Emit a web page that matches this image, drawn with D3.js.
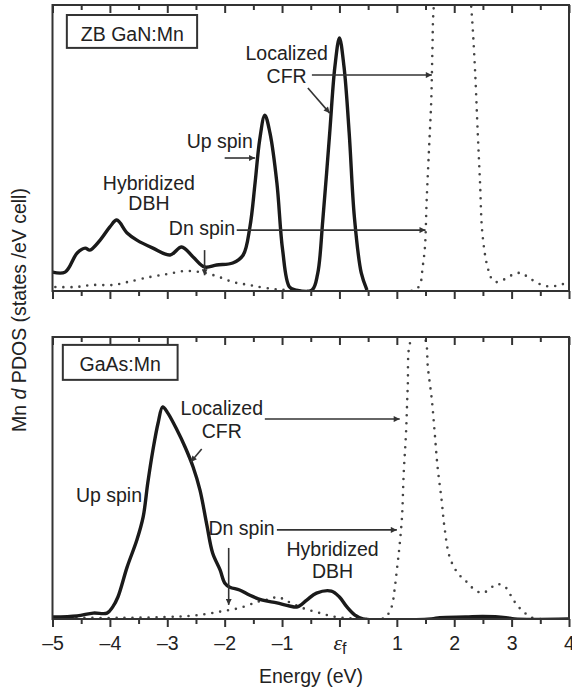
<!DOCTYPE html>
<html><head><meta charset="utf-8">
<script src="https://cdn.jsdelivr.net/npm/d3@7"></script>
<style>
body{margin:0;background:#fff;}
text{font-family:"Liberation Sans",Arial,sans-serif;fill:#222;}
</style></head>
<body><svg id="c" width="572" height="688"></svg>
<script>
// ---- data ----
const majorTicks = [-5,-4,-3,-2,-1,0,1,2,3,4];
const minorTicks = [-4.5,-3.5,-2.5,-1.5,-0.5,0.5,1.5,2.5,3.5];
const tickLabels = ["–5","–4","–3","–2","–1","εf","1","2","3","4"];

// ZB GaN:Mn, up spin (solid)
const ganUp = [[-5,0.66],[-4.78,0.66],[-4.57,1.33],[-4.43,1.5],[-4.35,1.43],[-4.17,1.78],[-4.0,2.24],[-3.88,2.48],[-3.7,2.03],[-3.53,1.78],[-3.25,1.5],[-2.95,1.26],[-2.75,1.54],[-2.55,1.19],[-2.35,0.84],[-2.14,0.91],[-1.86,0.98],[-1.68,1.25],[-1.56,2.24],[-1.47,3.78],[-1.39,5.28],[-1.3,6.15],[-1.21,5.52],[-1.09,3.78],[-0.99,1.43],[-0.87,0.14],[-0.75,0.03],[-0.48,0.03],[-0.38,0.6],[-0.29,2.48],[-0.17,5.52],[-0.08,7.83],[0.0,8.85],[0.08,7.83],[0.17,5.52],[0.26,2.59],[0.38,0.63],[0.48,0.03]];
// ZB GaN:Mn, down spin (dotted)
const ganDn = [[-4.95,0.14],[-4.6,0.14],[-4.3,0.21],[-3.95,0.21],[-3.7,0.31],[-3.3,0.49],[-3.0,0.59],[-2.7,0.7],[-2.42,0.66],[-2.14,0.52],[-1.85,0.31],[-1.57,0.21],[-1.27,0.1],[-0.87,0.03],[1.3,0.03],[1.4,0.21],[1.45,0.84],[1.49,1.54],[1.52,3.18],[1.56,4.93],[1.6,6.68],[1.62,8.43],[1.64,9.83],[1.75,12],[1.97,13],[2.2,12],[2.3,9.83],[2.36,7.83],[2.41,5.52],[2.45,3.78],[2.49,2.03],[2.58,0.84],[2.67,0.38],[2.76,0.31],[2.91,0.45],[3.04,0.59],[3.17,0.63],[3.28,0.49],[3.45,0.28],[3.6,0.17],[3.75,0.17],[3.89,0.24],[4.0,0.24]];
// GaAs:Mn, up spin (solid)
const gaasUp = [[-5,0.07],[-4.57,0.11],[-4.29,0.21],[-4.05,0.21],[-3.95,0.43],[-3.86,0.78],[-3.7,1.84],[-3.53,2.8],[-3.42,3.62],[-3.34,4.82],[-3.25,5.99],[-3.16,6.95],[-3.08,7.52],[-2.99,7.3],[-2.83,6.7],[-2.69,6.1],[-2.55,5.39],[-2.43,4.57],[-2.31,3.33],[-2.21,2.34],[-2.08,1.74],[-2.0,1.28],[-1.91,1.13],[-1.74,1.03],[-1.57,0.85],[-1.34,0.67],[-1.09,0.57],[-0.87,0.46],[-0.73,0.43],[-0.57,0.67],[-0.4,0.92],[-0.14,0.99],[0.0,0.78],[0.13,0.43],[0.27,0.14],[0.41,0.0],[1.6,0.0],[1.75,0.05],[2.2,0.07],[2.5,0.09],[2.9,0.05],[3.05,0.0],[4.0,0.0]];
// GaAs:Mn, down spin (dotted)
const gaasDn = [[-5,0.04],[-4.6,0.04],[-3.8,0.04],[-3.05,0.07],[-2.61,0.11],[-2.31,0.18],[-2.03,0.28],[-1.74,0.39],[-1.44,0.6],[-1.21,0.71],[-1.07,0.78],[-0.92,0.64],[-0.64,0.39],[-0.34,0.21],[-0.05,0.07],[0.3,0.02],[0.79,0.04],[0.87,0.25],[0.92,0.5],[0.96,1.03],[1.01,1.91],[1.04,2.45],[1.09,3.62],[1.12,5.18],[1.16,6.6],[1.19,8.23],[1.23,9.79],[1.37,10.3],[1.5,9.89],[1.54,8.94],[1.61,7.77],[1.66,6.6],[1.71,5.39],[1.78,4.22],[1.83,3.26],[1.92,2.2],[2.06,1.63],[2.2,1.35],[2.32,1.1],[2.48,0.92],[2.6,1.03],[2.74,1.24],[2.89,1.13],[2.99,0.82],[3.08,0.53],[3.21,0.25],[3.36,0.04],[3.55,0.0]];

// annotations (data units: energy, PDOS)
const ganTexts = [
  {t:"ZB GaN:Mn", e:-3.61, v:8.74, a:"middle"},
  {t:"Localized", e:-0.92, v:8.08, a:"middle"},
  {t:"CFR", e:-0.92, v:7.27, a:"middle"},
  {t:"Up spin", e:-1.51, v:5.0, a:"end"},
  {t:"Hybridized", e:-3.32, v:3.53, a:"middle"},
  {t:"DBH", e:-3.32, v:2.83, a:"middle"},
  {t:"Dn spin", e:-1.82, v:1.96, a:"end"}
];
const ganArrows = [
  [[-0.48,7.55],[1.61,7.55]],
  [[-0.55,7.1],[-0.17,6.22]],
  [[-2.0,4.65],[-1.47,4.65]],
  [[-1.79,2.13],[1.5,2.13]],
  [[-2.35,1.43],[-2.35,0.55]]
];
const ganBox = [[-4.75,9.65],[-2.48,8.5]];

const gaasTexts = [
  {t:"GaAs:Mn", e:-3.82, v:8.79, a:"middle"},
  {t:"Localized", e:-2.05, v:7.23, a:"middle"},
  {t:"CFR", e:-2.05, v:6.42, a:"middle"},
  {t:"Up spin", e:-3.44, v:4.15, a:"end"},
  {t:"Dn spin", e:-1.13, v:2.98, a:"end"},
  {t:"Hybridized", e:-0.12, v:2.23, a:"middle"},
  {t:"DBH", e:-0.12, v:1.45, a:"middle"}
];
const gaasArrows = [
  [[-1.3,7.09],[1.05,7.09]],
  [[-2.4,6.03],[-2.59,5.57]],
  [[-1.09,3.16],[1.0,3.16]],
  [[-1.93,2.52],[-1.93,0.5]]
];
const gaasBox = [[-4.82,9.72],[-2.82,8.48]];

// ---- drawing ----
const FS = 19.5;
const svg = d3.select("#c");
const x = d3.scaleLinear().domain([-5,4]).range([52.5,569]);
const panels = [
  {y:d3.scaleLinear().domain([0,10]).range([291,5]), up:ganUp, dn:ganDn, texts:ganTexts, arrows:ganArrows, box:ganBox, labels:false, id:"p1"},
  {y:d3.scaleLinear().domain([0,10]).range([619,337]), up:gaasUp, dn:gaasDn, texts:gaasTexts, arrows:gaasArrows, box:gaasBox, labels:true, id:"p2"}
];

const defs = svg.append("defs");
defs.append("marker").attr("id","ah").attr("viewBox","0 0 10 10").attr("refX",10).attr("refY",5)
  .attr("markerWidth",7).attr("markerHeight",6).attr("markerUnits","userSpaceOnUse").attr("orient","auto")
  .append("path").attr("d","M0,0L10,5L0,10Z").attr("fill","#333");

panels.forEach(p=>{
  const [y0,y1] = p.y.range();
  const [x0,x1] = x.range();
  defs.append("clipPath").attr("id","clip"+p.id).append("rect")
    .attr("x",x0).attr("y",y1).attr("width",x1-x0).attr("height",y0-y1);
  const g = svg.append("g");
  const line = d3.line().x(d=>x(d[0])).y(d=>p.y(d[1])).curve(d3.curveCatmullRom.alpha(0.5));
  const cg = g.append("g").attr("clip-path","url(#clip"+p.id+")");
  cg.append("path").datum(p.dn).attr("d",line).attr("fill","none").attr("stroke","#444")
    .attr("stroke-width",2.6).attr("stroke-dasharray","0,8").attr("stroke-linecap","round");
  cg.append("path").datum(p.up).attr("d",line).attr("fill","none").attr("stroke","#1a1a1a")
    .attr("stroke-width",3.4).attr("stroke-linejoin","round");

  // axes: top (inward) and bottom (outward)
  const topMaj = d3.axisBottom(x).tickValues(majorTicks).tickSize(8).tickFormat("");
  const topMin = d3.axisBottom(x).tickValues(minorTicks).tickSize(5).tickFormat("");
  [topMaj,topMin].forEach(a=>{
    const ag = g.append("g").attr("transform",`translate(0,${y1})`).call(a);
    ag.select(".domain").remove();
    ag.selectAll("line").attr("stroke","#333").attr("stroke-width",2);
  });
  const botMaj = d3.axisBottom(x).tickValues(majorTicks).tickSize(8).tickPadding(9)
    .tickFormat((d,i)=>p.labels?tickLabels[i]:"");
  const botMin = d3.axisBottom(x).tickValues(minorTicks).tickSize(5).tickFormat("");
  [botMaj,botMin].forEach(a=>{
    const ag = g.append("g").attr("transform",`translate(0,${y0})`).call(a);
    ag.select(".domain").remove();
    ag.selectAll("line").attr("stroke","#333").attr("stroke-width",2);
    ag.selectAll("text").attr("font-size",FS).attr("fill","#222")
      .attr("font-family","'Liberation Sans',Arial,sans-serif");
  });
  g.append("rect").attr("x",x0).attr("y",y1).attr("width",x1-x0).attr("height",y0-y1)
    .attr("fill","none").attr("stroke","#333").attr("stroke-width",2);

  // legend box
  g.append("rect").attr("x",x(p.box[0][0])).attr("y",p.y(p.box[0][1]))
    .attr("width",x(p.box[1][0])-x(p.box[0][0])).attr("height",p.y(p.box[1][1])-p.y(p.box[0][1]))
    .attr("fill","#fff").attr("stroke","#333").attr("stroke-width",2);

  p.texts.forEach(t=>{
    g.append("text").attr("x",x(t.e)).attr("y",p.y(t.v)).attr("text-anchor",t.a)
      .attr("font-size",FS).text(t.t);
  });
  p.arrows.forEach(a=>{
    g.append("line").attr("x1",x(a[0][0])).attr("y1",p.y(a[0][1]))
      .attr("x2",x(a[1][0])).attr("y2",p.y(a[1][1]))
      .attr("stroke","#333").attr("stroke-width",1.6).attr("marker-end","url(#ah)");
  });
});

// fix epsilon_f label
svg.selectAll("text").filter(function(){return d3.select(this).text()==="εf";}).each(function(){
  const s = d3.select(this); s.text("");
  s.append("tspan").text("ε").attr("font-family","'Liberation Serif','Times New Roman',serif")
    .attr("font-style","italic").attr("font-size",22);
  s.append("tspan").text("f").attr("font-size",16).attr("dy",4);
});

// axis titles
svg.append("text").attr("x",311).attr("y",683).attr("text-anchor","middle").attr("font-size",FS).text("Energy (eV)");
const yl = svg.append("text").attr("transform","translate(26,310) rotate(-90)").attr("text-anchor","middle").attr("font-size",FS);
yl.append("tspan").text("Mn ");
yl.append("tspan").text("d").attr("font-style","italic");
yl.append("tspan").text(" PDOS (states /eV cell)");
</script></body></html>
